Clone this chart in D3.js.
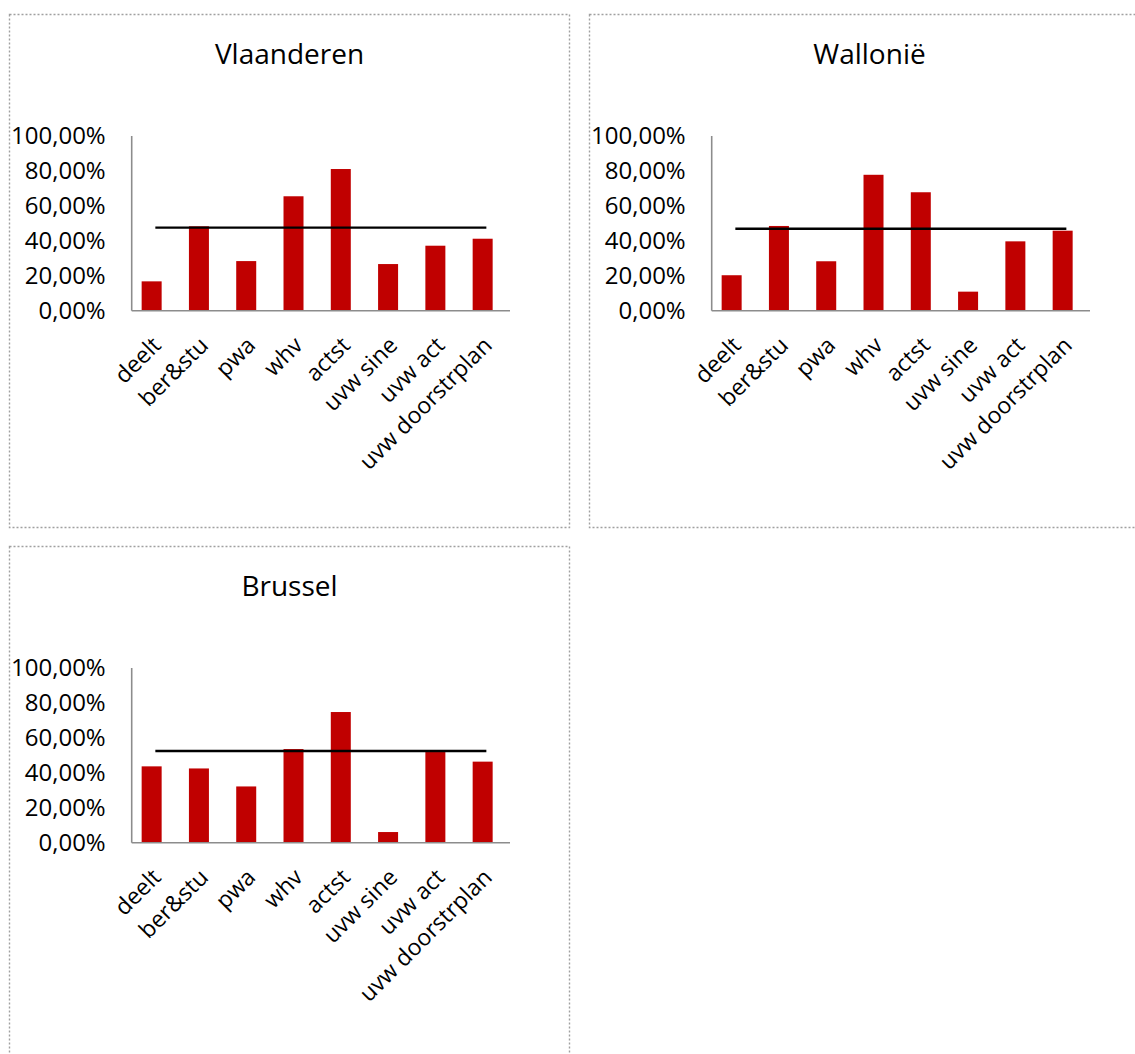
<!DOCTYPE html>
<html>
<head>
<meta charset="utf-8">
<script src="https://cdn.jsdelivr.net/npm/d3@7"></script>
<style>
  html, body { margin: 0; padding: 0; background: #fff; }
  svg { display: block; }
  text { font-family: "Open Sans", "Noto Sans", sans-serif; fill: #000; }
</style>
</head>
<body>
<svg id="chart" width="1135" height="1054"></svg>
<script>
// Categories shared by the three regional charts
const categories = ["deelt", "ber&stu", "pwa", "whv", "actst", "uvw sine", "uvw act", "uvw doorstrplan"];

// Share per category (in %) for each region
const vlaanderenValues = [16.8, 48.3, 28.4, 65.5, 81.1, 26.7, 37.2, 41.2];
const wallonieValues   = [20.3, 48.5, 28.3, 77.8, 67.8, 10.9, 39.7, 45.8];
const brusselValues    = [43.7, 42.5, 32.2, 53.6, 74.8, 6.1, 51.9, 46.4];

// Regional average drawn as a horizontal line
const vlaanderenAvg = 47.5;
const wallonieAvg   = 46.9;
const brusselAvg    = 52.5;

const regionTitles = ["Vlaanderen", "Wallonië", "Brussel"];
const yTickValues = [0, 20, 40, 60, 80, 100];

const panels = [
  { title: regionTitles[0], values: vlaanderenValues, avg: vlaanderenAvg, x: 9.5,   y: 14.5 },
  { title: regionTitles[1], values: wallonieValues,   avg: wallonieAvg,   x: 589.5, y: 14.5 },
  { title: regionTitles[2], values: brusselValues,    avg: brusselAvg,    x: 9.5,   y: 546.5 }
];

const svg = d3.select("#chart");

const panelW = 560, panelH = 513;
const plot = { left: 122.2, right: 500.5, top: 121.5, bottom: 296.2 };
const barW = 20, barShift = -3.7;
const fmtPct = v => d3.format(".2f")(v).replace(".", ",") + "%";

panels.forEach(p => {
  const g = svg.append("g").attr("transform", `translate(${p.x},${p.y})`);

  // dotted frame around the chart
  g.append("rect")
    .attr("x", 0).attr("y", 0)
    .attr("width", panelW).attr("height", panelH)
    .attr("fill", "none")
    .attr("stroke", "#a0a0a0")
    .attr("stroke-width", 1.4)
    .attr("stroke-dasharray", "2,2");

  g.append("text")
    .attr("x", panelW / 2).attr("y", 49)
    .attr("text-anchor", "middle")
    .attr("font-size", 28)
    .text(p.title);

  const x = d3.scaleBand().domain(categories).range([plot.left, plot.right]);
  const y = d3.scaleLinear().domain([0, 100]).range([plot.bottom, plot.top]);

  // y tick labels
  const yAxis = d3.axisLeft(y).tickValues(yTickValues).tickFormat(fmtPct).tickSize(0).tickPadding(26);
  const ya = g.append("g").attr("transform", `translate(${plot.left},0)`).call(yAxis);
  ya.select(".domain").remove();
  ya.selectAll("text")
    .attr("font-size", 24)
    .attr("font-family", "'Open Sans', sans-serif")
    .attr("fill", "#000");

  // bars
  g.selectAll("rect.bar")
    .data(p.values)
    .join("rect")
    .attr("class", "bar")
    .attr("x", (d, i) => x(categories[i]) + x.bandwidth() / 2 + barShift - barW / 2)
    .attr("width", barW)
    .attr("y", d => y(d))
    .attr("height", d => y(0) - y(d))
    .attr("fill", "#c00000");

  // axis lines
  g.append("line")
    .attr("x1", plot.left).attr("x2", plot.left)
    .attr("y1", plot.top).attr("y2", plot.bottom)
    .attr("stroke", "#8c8c8c").attr("stroke-width", 1.6);
  g.append("line")
    .attr("x1", plot.left).attr("x2", plot.right)
    .attr("y1", plot.bottom).attr("y2", plot.bottom)
    .attr("stroke", "#8c8c8c").attr("stroke-width", 1.6);

  // average line across the category centres
  const avgLine = d3.line()
    .x(c => x(c) + x.bandwidth() / 2)
    .y(() => y(p.avg));
  g.append("path")
    .datum(categories)
    .attr("d", avgLine)
    .attr("fill", "none")
    .attr("stroke", "#000")
    .attr("stroke-width", 2.3);

  // rotated category labels
  g.selectAll("text.cat")
    .data(categories)
    .join("text")
    .attr("class", "cat")
    .attr("font-size", 23)
    .attr("text-anchor", "end")
    .attr("transform", c => `translate(${x(c) + x.bandwidth() / 2 + 7},${plot.bottom + 36}) rotate(-45)`)
    .text(c => c);
});
</script>
</body>
</html>
